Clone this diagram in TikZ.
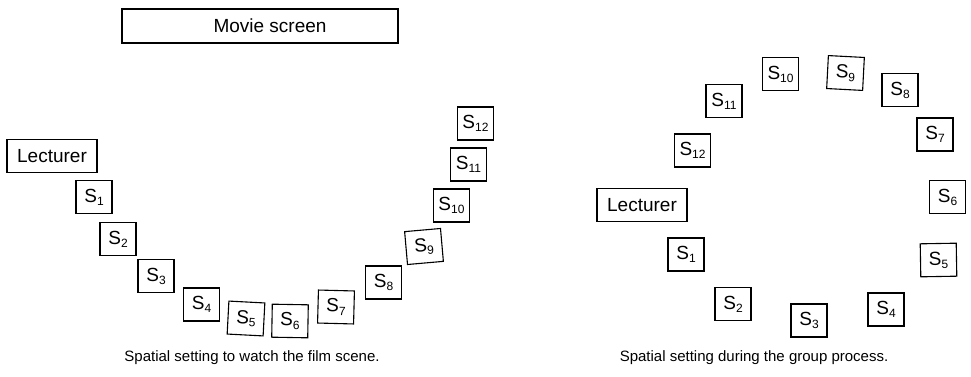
\documentclass[tikz,border=0pt]{standalone}
\usepackage{fontspec}
\setmainfont{Liberation Sans}
% seat label: S with a lowered, smaller index
\newcommand\seatlabel[1]{S\raisebox{-3pt}{\fontsize{12}{14}\selectfont #1}}
\begin{document}
\begin{tikzpicture}[x=1pt,y=-1pt,
  boxline/.style={draw, line width=1.1pt, inner sep=0pt},
  seat/.style={boxline, minimum width=36pt, minimum height=33pt,
    font=\fontsize{19}{22}\selectfont},
  wide/.style={boxline, minimum height=33pt, font=\fontsize{19}{22}\selectfont},
  capt/.style={font=\fontsize{15}{18}\selectfont, inner sep=0pt}]
\useasboundingbox (0,0) rectangle (971,377);

% ---- seating while the film scene is shown ----
\node[wide, minimum width=276pt, minimum height=34pt] (screen) at (260,26) {};
\node[font=\fontsize{19}{22}\selectfont, inner sep=0pt] (screentext) at (270,26) {Movie screen};
\node[wide, minimum width=90pt] (lecA) at (52,156) {Lecturer};
\node[seat] (a1)  at (94,197)    {\seatlabel{1}};
\node[seat] (a2)  at (118,239)   {\seatlabel{2}};
\node[seat] (a3)  at (156,276)   {\seatlabel{3}};
\node[seat] (a4)  at (201.5,304.5) {\seatlabel{4}};
\node[seat, rotate=-3] (a5) at (246,318.5) {\seatlabel{5}};
\node[seat, rotate=-1] (a6) at (290,321) {\seatlabel{6}};
\node[seat, rotate=-1.5] (a7) at (336,307) {\seatlabel{7}};
\node[seat] (a8)  at (383.5,282.5) {\seatlabel{8}};
\node[seat, rotate=5] (a9) at (424,246.5) {\seatlabel{9}};
\node[seat] (a10) at (451.5,205.5) {\seatlabel{10}};
\node[seat] (a11) at (468.5,164.5) {\seatlabel{11}};
\node[seat] (a12) at (475.5,123.5) {\seatlabel{12}};
\node[capt] (captA) at (252,358) {Spatial setting to watch the film scene.};

% ---- seating during the group process ----
\node[wide, minimum width=90pt] (lecB) at (642,205) {Lecturer};
\node[seat] (b1)  at (686,254.5) {\seatlabel{1}};
\node[seat] (b2)  at (733,304)   {\seatlabel{2}};
\node[seat] (b3)  at (809,320.5) {\seatlabel{3}};
\node[seat] (b4)  at (886,309.5) {\seatlabel{4}};
\node[seat, rotate=1] (b5) at (938.5,260) {\seatlabel{5}};
\node[seat] (b6)  at (947.5,197) {\seatlabel{6}};
\node[seat] (b7)  at (935,134.5) {\seatlabel{7}};
\node[seat] (b8)  at (900,90)    {\seatlabel{8}};
\node[seat, rotate=-3] (b9) at (845.5,73) {\seatlabel{9}};
\node[seat] (b10) at (780.5,74)  {\seatlabel{10}};
\node[seat] (b11) at (724,101)   {\seatlabel{11}};
\node[seat] (b12) at (692.5,150.5) {\seatlabel{12}};
\node[capt] (captB) at (754,358) {Spatial setting during the group process.};
\end{tikzpicture}
\end{document}
